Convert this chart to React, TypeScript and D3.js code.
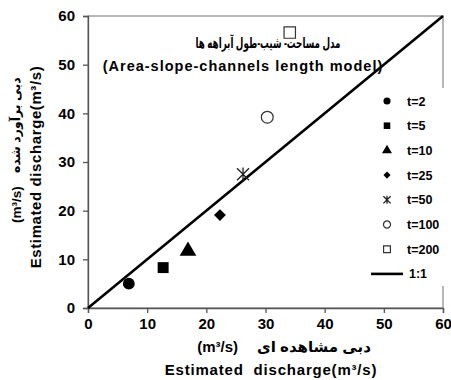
import { useEffect, useRef } from "react";
import * as d3 from "d3";

const seriesLabels = ["t=2", "t=5", "t=10", "t=25", "t=50", "t=100", "t=200"];
const observed = [6.9, 12.7, 16.9, 22.3, 26.2, 30.3, 34.1];
const estimated = [5.0, 8.3, 11.7, 19.1, 27.5, 39.2, 56.6];
const ticks = [0, 10, 20, 30, 40, 50, 60];
const oneToOne = [0, 60];

const FONT = "'Liberation Sans', Arial, 'DejaVu Sans', sans-serif";

export default function App() {
  const ref = useRef<SVGSVGElement>(null);

  useEffect(() => {
    if (!ref.current) return;
    const svg = d3.select(ref.current);
    svg.selectAll("*").remove();

    const x = d3.scaleLinear().domain([0, 60]).range([88, 443]);
    const y = d3.scaleLinear().domain([0, 60]).range([308, 16]);

    svg.append("rect").attr("width", 451).attr("height", 380).attr("fill", "#fff");

    // frame
    svg.append("rect")
      .attr("x", x(0)).attr("y", y(60))
      .attr("width", x(60) - x(0)).attr("height", y(0) - y(60))
      .attr("fill", "none").attr("stroke", "#888").attr("stroke-width", 1.2);

    const gx = svg.append("g").attr("transform", `translate(0,${y(0)})`)
      .call(d3.axisBottom(x).tickValues(ticks).tickSize(5).tickPadding(5));
    gx.selectAll("text").attr("font-size", 15).attr("font-weight", "bold").attr("font-family", FONT).attr("fill", "#000");
    gx.selectAll("line,path").attr("stroke", "#555").attr("stroke-width", 1.3);

    const gy = svg.append("g").attr("transform", `translate(${x(0)},0)`)
      .call(d3.axisLeft(y).tickValues(ticks).tickSize(5).tickPadding(8));
    gy.selectAll("text").attr("font-size", 15).attr("font-weight", "bold").attr("font-family", FONT).attr("fill", "#000");
    gy.selectAll("line,path").attr("stroke", "#555").attr("stroke-width", 1.3);

    // 1:1 line
    svg.append("line")
      .attr("x1", x(oneToOne[0])).attr("y1", y(oneToOne[0]))
      .attr("x2", x(oneToOne[1])).attr("y2", y(oneToOne[1]))
      .attr("stroke", "#000").attr("stroke-width", 2.6);

    const symbols = [
      d3.symbolCircle, d3.symbolSquare, d3.symbolTriangle, d3.symbolSquare,
      d3.symbolAsterisk, d3.symbolCircle, d3.symbolSquare,
    ];
    const filled = [true, true, true, true, false, false, false];
    const sizes = [110, 120, 120, 70, 110, 110, 130];

    const drawMarker = (g: any, i: number, cx: number, cy: number, scale: number) => {
      if (i === 4) {
        const s = 6 * scale;
        const p = d3.path();
        p.moveTo(cx - s, cy - s); p.lineTo(cx + s, cy + s);
        p.moveTo(cx - s, cy + s); p.lineTo(cx + s, cy - s);
        p.moveTo(cx, cy - s * 1.1); p.lineTo(cx, cy + s * 1.1);
        g.append("path").attr("d", p.toString()).attr("stroke", "#222").attr("stroke-width", 1.3).attr("fill", "none");
        return;
      }
      g.append("path")
        .attr("d", d3.symbol(symbols[i], sizes[i] * scale * scale)())
        .attr("transform", `translate(${cx},${cy})${i === 3 ? " rotate(45)" : ""}`)
        .attr("fill", filled[i] ? "#000" : "#fff")
        .attr("stroke", filled[i] ? "none" : "#333")
        .attr("stroke-width", 1.2);
    };

    const pts = svg.append("g");
    observed.forEach((o, i) => drawMarker(pts, i, x(o), y(estimated[i]), 1));

    // titles
    svg.append("text").attr("x", 268).attr("y", 48).attr("text-anchor", "middle")
      .attr("font-family", FONT).attr("font-weight", "bold").attr("font-size", 14.5)
      .attr("textLength", 145).attr("lengthAdjust", "spacingAndGlyphs")
      .text("مدل مساحت- شیب-طول آبراهه ها");
    svg.append("text").attr("x", 243).attr("y", 71).attr("text-anchor", "middle")
      .attr("font-family", FONT).attr("font-weight", "bold").attr("font-size", 14.5)
      .attr("letter-spacing", 1).text("(Area-slope-channels length model)");

    // legend (white box covering frame)
    const legend = svg.append("g");
    legend.append("rect").attr("x", 365).attr("y", 88).attr("width", 80).attr("height", 198).attr("fill", "#fff");
    const rowY = (i: number) => 101 + i * 24.7;
    seriesLabels.forEach((lab, i) => {
      drawMarker(legend, i, 387, rowY(i), 0.6);
      legend.append("text").attr("x", 407).attr("y", rowY(i) + 4.5)
        .attr("font-family", FONT).attr("font-weight", "bold").attr("font-size", 12.5).text(lab);
    });
    legend.append("line").attr("x1", 371).attr("x2", 403).attr("y1", rowY(7)).attr("y2", rowY(7))
      .attr("stroke", "#000").attr("stroke-width", 2.6);
    legend.append("text").attr("x", 409).attr("y", rowY(7) + 4.5)
      .attr("font-family", FONT).attr("font-weight", "bold").attr("font-size", 12.5).text("1:1");

    // x axis titles
    svg.append("text").attr("x", 238).attr("y", 352).attr("text-anchor", "end")
      .attr("font-family", FONT).attr("font-weight", "bold").attr("font-size", 15).text("(m³/s)");
    svg.append("text").attr("x", 257).attr("y", 352).attr("text-anchor", "start")
      .attr("font-family", FONT).attr("font-weight", "bold").attr("font-size", 15).attr("direction", "ltr").text("دبی مشاهده ای");
    svg.append("text").attr("x", 271).attr("y", 375).attr("text-anchor", "middle")
      .attr("font-family", FONT).attr("font-weight", "bold").attr("font-size", 15)
      .attr("letter-spacing", 0.8).attr("xml:space", "preserve").text("Estimated  discharge(m³/s)");

    // y axis titles
    svg.append("text").attr("transform", "translate(41,167) rotate(-90)").attr("text-anchor", "middle")
      .attr("font-family", FONT).attr("font-weight", "bold").attr("font-size", 15)
      .attr("letter-spacing", 0.6).text("Estimated discharge(m³/s)");
    svg.append("text").attr("transform", "translate(21,223) rotate(-90)").attr("text-anchor", "start")
      .attr("font-family", FONT).attr("font-weight", "bold").attr("font-size", 13.5).text("(m³/s)");
    svg.append("text").attr("transform", "translate(20,173) rotate(-90)").attr("text-anchor", "start")
      .attr("font-family", FONT).attr("font-weight", "bold").attr("font-size", 12.5).attr("direction", "ltr").text("دبی برآورد شده");
  }, []);

  return (
    <svg ref={ref} width={451} height={380}
      style={{ position: "absolute", left: 0, top: 0, display: "block" }} />
  );
}
